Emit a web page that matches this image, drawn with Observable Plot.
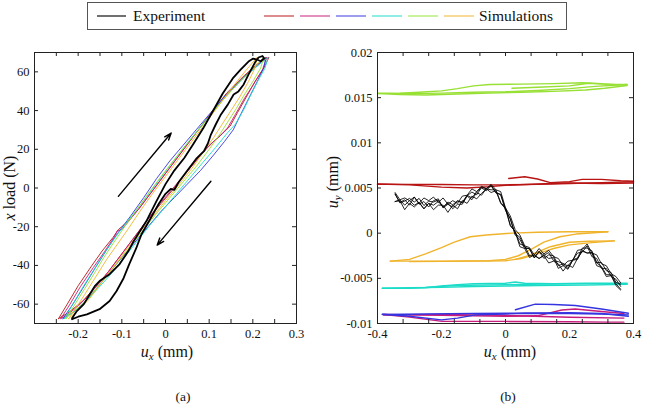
<!DOCTYPE html>
<html>
<head>
<meta charset="utf-8">
<script src="https://cdn.jsdelivr.net/npm/d3@7"></script>
<script src="https://cdn.jsdelivr.net/npm/@observablehq/plot@0.6"></script>
<style>
  body { margin: 0; background: #fff; }
  #fig { position: relative; width: 645px; height: 408px; font-family: "Liberation Serif", "DejaVu Serif", serif; color: #111; overflow: hidden; }
  .abs { position: absolute; white-space: nowrap; }
  .ctr { transform: translate(-50%, -50%); }
  .rot { transform: translate(-50%, -50%) rotate(-90deg); }
  .sub { font-size: 0.68em; position: relative; top: 0.3em; }
  .ttl { font-size: 16px; }
  .cap { font-size: 13.5px; }
</style>
</head>
<body>
<div id="fig"></div>
<script>
// ---------- series colours (legend order) ----------
const simColors = ["#b81414", "#c81c7c", "#3434e0", "#1cdcc8", "#98e034", "#f0b42c"];

// ---------- panel (a): x load (N) vs u_x (mm) ----------
const expLoopA = [
  [-0.214,-67.8],[-0.2,-66.5],[-0.18,-65.3],[-0.151,-62.6],[-0.128,-58.4],[-0.112,-53.2],[-0.096,-46.6],
  [-0.083,-39.3],[-0.067,-31.1],[-0.055,-23.9],[-0.035,-16],[-0.015,-8],[0.0,-3],[0.012,-0.5],[0.02,-1],
  [0.03,3],[0.05,9],[0.07,15],[0.088,19],[0.097,23],[0.104,27.6],[0.115,32.8],[0.127,38],[0.143,43.2],
  [0.156,48.3],[0.167,49.9],[0.179,53.5],[0.19,58.6],[0.206,65.3],[0.213,67.4],[0.222,68.2],[0.226,67],
  [0.218,65.5],[0.208,66.5],[0.2,66.8],[0.19,65.3],[0.172,61.2],[0.154,56.6],[0.131,48.8],[0.108,39.5],
  [0.086,30.7],[0.063,22.5],[0.043,15.5],[0.02,9],[0.0,2],[-0.021,-6.9],[-0.044,-17.2],[-0.073,-27.5],
  [-0.085,-32.6],[-0.105,-39.3],[-0.128,-44.5],[-0.151,-48.1],[-0.162,-50.7],[-0.173,-54.8],[-0.187,-60],
  [-0.203,-63.6],[-0.214,-67.3]
];
const simRedA = [
  [-0.245,-67.5],[-0.225,-60],[-0.2,-50.5],[-0.17,-40.5],[-0.145,-32.5],[-0.12,-25.5],[-0.108,-21.5],[-0.085,-17],
  [-0.06,-10.5],[-0.03,-1.5],[0,7.5],[0.03,16.5],[0.06,25.5],[0.1,37.5],[0.14,49],[0.18,58],[0.21,64],[0.237,67.5],
  [0.225,62],[0.205,55],[0.185,47],[0.165,39],[0.148,32],[0.13,28],[0.11,24],[0.08,17],[0.05,8.5],[0.02,0],
  [-0.01,-8],[-0.04,-16],[-0.07,-25],[-0.1,-34],[-0.13,-43],[-0.16,-51],[-0.19,-58.5],[-0.22,-64],[-0.245,-67.5]
];
const simMagentaA = [
  [-0.24,-67.5],[-0.22,-60.5],[-0.195,-51],[-0.165,-41],[-0.14,-33],[-0.118,-25.5],[-0.11,-22],[-0.1,-21.5],
  [-0.08,-16],[-0.055,-9],[-0.025,0],[0.005,9],[0.035,18],[0.065,27],[0.1,37],[0.14,48],[0.18,57.5],[0.21,63.5],
  [0.232,67.5],[0.222,61],[0.2,53],[0.18,46],[0.16,38],[0.142,31],[0.125,27],[0.1,22],[0.07,14],[0.04,6],
  [0.01,-2],[-0.02,-10],[-0.05,-19],[-0.08,-28],[-0.11,-37],[-0.14,-46],[-0.17,-54],[-0.2,-61],[-0.225,-65.5],[-0.24,-67.5]
];
const simBlueA = [
  [-0.235,-67.5],[-0.215,-61],[-0.19,-52],[-0.16,-41],[-0.135,-32],[-0.11,-23.5],[-0.08,-14.5],[-0.05,-5],
  [-0.02,5],[0.01,14],[0.04,22],[0.07,30],[0.1,38],[0.14,48.5],[0.18,57.5],[0.21,63],[0.23,67.5],
  [0.225,62],[0.21,55],[0.19,46],[0.17,37],[0.155,30],[0.135,24],[0.11,17],[0.08,9],[0.05,2],[0.02,-5],
  [-0.01,-12],[-0.04,-20],[-0.07,-28],[-0.1,-36],[-0.13,-44],[-0.16,-52.5],[-0.185,-59],[-0.21,-64],[-0.235,-67.5]
];
const simCyanA = [
  [-0.232,-67.5],[-0.212,-60],[-0.19,-51.5],[-0.162,-41.5],[-0.14,-33.5],[-0.115,-25.5],[-0.09,-18],[-0.06,-9.5],
  [-0.03,-0.5],[0,8.5],[0.03,17.5],[0.06,26],[0.1,37],[0.14,48],[0.18,57],[0.21,63],[0.235,67.5],
  [0.228,62],[0.212,55.5],[0.195,48],[0.178,40],[0.16,33],[0.14,28],[0.115,21],[0.085,13],[0.055,5],[0.025,-3],
  [-0.005,-11],[-0.035,-19],[-0.065,-27.5],[-0.095,-36],[-0.125,-44.5],[-0.155,-52],[-0.18,-58],[-0.205,-63],[-0.232,-67.5]
];
const simGreenA = [
  [-0.228,-67.5],[-0.21,-61],[-0.185,-52],[-0.16,-43],[-0.14,-35.5],[-0.118,-28],[-0.095,-20.5],[-0.065,-11],
  [-0.035,-1.5],[-0.005,7.5],[0.025,16],[0.055,24.5],[0.09,34],[0.13,45],[0.17,55],[0.2,61.5],[0.225,67.5],
  [0.218,62],[0.2,55],[0.18,48],[0.162,41],[0.145,35],[0.125,28],[0.1,20],[0.07,11],[0.04,3],[0.01,-5],
  [-0.02,-13],[-0.05,-21.5],[-0.08,-30],[-0.11,-38.5],[-0.14,-47],[-0.17,-55],[-0.195,-61],[-0.215,-64.5],[-0.228,-67.5]
];
const simOrangeA = [
  [-0.222,-67.5],[-0.205,-62],[-0.185,-55],[-0.16,-46],[-0.135,-37],[-0.11,-29],[-0.085,-21],[-0.06,-12.5],
  [-0.03,-3],[0,6],[0.03,15],[0.06,24],[0.095,34.5],[0.13,45],[0.16,54],[0.185,61],[0.21,67.5],
  [0.205,62],[0.19,55],[0.17,47],[0.15,40],[0.13,33],[0.11,26],[0.085,18],[0.06,10],[0.03,1.5],[0,-6.5],
  [-0.03,-15],[-0.06,-23],[-0.09,-32],[-0.12,-41],[-0.15,-50],[-0.175,-57.5],[-0.2,-63],[-0.222,-67.5]
];
const arrowStartA = [[-0.108,-4.3],[0.104,3.5]];
const arrowEndA = [[0.013,28.4],[-0.019,-29.5]];
const tickLabelsXA = [-0.2,-0.1,0,0.1,0.2,0.3];
const tickMarksXA = [-0.25,-0.2,-0.15,-0.1,-0.05,0,0.05,0.1,0.15,0.2,0.25];
const tickLabelsYA = [-60,-40,-20,0,20,40,60];

// ---------- panel (b): u_y vs u_x, both mm (u_y listed in µm) ----------
const expGridB = [-0.345,-0.33,-0.315,-0.3,-0.285,-0.27,-0.255,-0.24,-0.225,-0.21,-0.195,-0.18,-0.165,-0.15,
  -0.135,-0.12,-0.105,-0.09,-0.075,-0.06,-0.045,-0.03,-0.015,0,0.015,0.03,0.045,0.06,0.075,0.09,0.105,0.12,
  0.135,0.15,0.165,0.18,0.195,0.21,0.225,0.24,0.255,0.27,0.285,0.3,0.315,0.33,0.345,0.36];
const expCycle1B = [4.3,3.4,3.7,3.1,4.0,3.2,3.5,2.9,3.6,3.8,2.8,3.2,2.9,3.6,3.4,4.2,3.9,4.6,5.0,4.7,5.3,4.5,4.3,2.5,
  1.6,-0.2,-0.7,-1.7,-1.7,-2.7,-2.0,-2.8,-2.4,-2.5,-3.6,-3.4,-3.9,-3.0,-2.2,-2.1,-1.4,-2.6,-2.8,-3.9,-3.9,-4.8,-5.1,-5.9];
const expCycle2B = [3.5,3.6,2.6,3.3,2.9,3.4,2.7,3.3,2.6,3.1,3.1,2.3,3.1,2.7,3.6,3.3,4.1,3.8,4.4,4.9,4.5,4.7,3.3,2.7,
  0.8,0.2,-1.5,-1.7,-2.7,-2.4,-2.8,-2.5,-3.3,-3.1,-3.4,-4.2,-3.5,-3.8,-2.8,-2.0,-2.2,-2.2,-3.6,-3.8,-4.8,-4.7,-5.8,-6.3];
const expCycle3B = [4.5,3.7,3.9,3.6,4.0,3.3,3.9,3.6,4.0,3.4,3.9,3.2,3.6,3.3,4.1,4.2,4.9,4.6,5.2,4.9,5.4,4.8,4.6,2.8,
  1.9,0.4,-0.2,-1.4,-1.6,-2.4,-1.7,-2.3,-1.9,-2.6,-2.8,-3.6,-3.1,-3.0,-1.9,-1.8,-1.2,-2.2,-2.4,-3.4,-3.6,-4.5,-4.8,-5.5];
const expCycle4B = [3.5,3.7,3.1,3.6,3.1,3.4,2.7,3.3,3.1,3.5,2.9,3.3,2.7,3.2,3.2,4.1,3.7,4.5,4.2,4.9,4.8,4.8,3.4,2.8,
  0.9,0.2,-1.2,-1.4,-2.5,-2.5,-2.8,-2.4,-2.8,-2.7,-3.9,-3.6,-4.0,-3.0,-2.9,-1.9,-2.2,-2.1,-3.3,-3.7,-4.6,-4.6,-5.6,-6.2];
const expCycle5B = [4.35,3.35,3.55,3.85,3.45,3.85,3.05,3.55,3.45,3.65,2.85,3.45,3.15,3.55,3.35,4.15,4.55,4.25,5.05,4.95,
  5.25,4.45,4.25,2.65,1.55,-0.05,-0.45,-1.55,-1.75,-2.75,-2.05,-2.45,-2.15,-3.05,-3.15,-3.35,-3.65,-2.95,-2.75,-1.65,
  -1.65,-1.95,-3.25,-3.25,-4.15,-4.35,-5.45,-5.65];

const simRedB = [
  [[-0.4,5.42],[-0.3,5.4],[-0.2,5.38],[-0.1,5.35],[0,5.35],[0.1,5.4],[0.2,5.5],[0.3,5.6],[0.4,5.7]],
  [[-0.4,5.45],[-0.3,5.35],[-0.2,5.1],[-0.12,5.0],[-0.05,5.15],[0,5.3],[0.1,5.45],[0.2,5.55],[0.3,5.5],[0.4,5.55]],
  [[0.01,6.05],[0.06,6.25],[0.1,6.0],[0.14,5.6],[0.2,5.7],[0.24,5.95],[0.3,5.95],[0.36,5.8],[0.4,5.75]]
];
const simMagentaB = [
  [[-0.381,-9.0],[-0.3,-9.3],[-0.198,-9.77],[0,-9.77],[0.2,-9.8],[0.32,-9.85],[0.37,-9.85]],
  [[-0.381,-9.0],[-0.2,-9.1],[0,-9.2],[0.1,-9.15],[0.176,-8.5],[0.218,-8.4],[0.3,-8.67],[0.37,-8.9]],
  [[-0.381,-9.05],[-0.2,-9.0],[0,-9.1],[0.2,-9.3],[0.37,-9.4]]
];
const simBlueB = [
  [[-0.385,-8.97],[-0.3,-9.2],[-0.2,-9.6],[-0.15,-9.4],[-0.094,-9.04],[0,-8.95],[0.062,-8.86],[0.2,-8.9],[0.3,-8.95],[0.384,-9.04]],
  [[0.031,-8.48],[0.093,-7.86],[0.15,-7.9],[0.218,-8.0],[0.3,-8.4],[0.384,-8.86]],
  [[-0.385,-9.0],[-0.25,-8.95],[-0.1,-8.9],[0.05,-8.85],[0.2,-8.8],[0.3,-8.9],[0.384,-9.2]]
];
const simCyanB = [
  [[-0.385,-6.1],[-0.3,-6.1],[-0.25,-6.05],[-0.2,-5.85],[-0.15,-5.7],[-0.1,-5.6],[0,-5.55],[0.03,-5.4],[0.06,-5.55],[0.15,-5.6],[0.25,-5.55],[0.38,-5.55]],
  [[0.38,-5.65],[0.25,-5.75],[0.1,-5.8],[0,-5.85],[-0.1,-5.9],[-0.2,-6.0],[-0.3,-6.05],[-0.385,-6.1]],
  [[-0.25,-6.0],[-0.15,-5.8],[0,-5.7],[0.2,-5.6],[0.38,-5.6]]
];
const simGreenB = [
  [[-0.398,15.45],[-0.33,15.35],[-0.25,15.3],[-0.15,15.4],[-0.05,15.5],[0.05,15.6],[0.15,15.7],[0.25,15.85],[0.31,16.05],[0.38,16.35],
   [0.3,16.55],[0.24,16.65],[0.15,16.55],[0.05,16.5],[-0.05,16.45],[-0.1,16.3],[-0.15,16.0],[-0.2,15.75],[-0.27,15.6],[-0.33,15.5],[-0.398,15.45]],
  [[-0.398,15.5],[-0.3,15.45],[-0.2,15.5],[-0.1,15.6],[0,15.65],[0.1,15.8],[0.2,16.0],[0.28,16.25],[0.38,16.45]],
  [[0.02,16.05],[0.1,16.15],[0.2,16.3],[0.26,16.6],[0.3,16.5],[0.38,16.45]]
];
const simOrangeB = [
  [[-0.36,-3.1],[-0.2,-3.1],[-0.05,-3.05],[0,-2.9],[0.04,-2.5],[0.08,-1.8],[0.12,-1.0],[0.17,-0.4],[0.22,-0.1],[0.32,0.15]],
  [[0.32,0.15],[0.2,0.15],[0.1,0.1],[0.02,0.0],[-0.06,-0.2],[-0.11,-0.4],[-0.16,-1.0],[-0.2,-1.6],[-0.25,-2.3],[-0.3,-2.9],[-0.36,-3.1]],
  [[-0.3,-3.15],[-0.1,-3.1],[0,-3.05],[0.05,-2.8],[0.1,-2.3],[0.15,-1.7],[0.2,-1.3],[0.27,-1.05],[0.34,-0.85]],
  [[0.03,-2.9],[0.08,-2.4],[0.14,-1.5],[0.2,-1.0],[0.26,-0.9],[0.34,-0.85]]
];
const tickLabelsXB = [-0.4,-0.2,0,0.2,0.4];
const tickMarksXB = [-0.32,-0.24,-0.16,-0.08,0,0.08,0.16,0.24,0.32];
const tickLabelsYB = [-0.01,-0.005,0,0.005,0.01,0.015,0.02];
const tickMarksYB = [-0.005,0,0.005,0.01,0.015];

const legendLabels = ["Experiment", "Simulations"];

// ---------- drawing ----------
const fig = document.getElementById("fig");
const um = 1e-3;
const tickLen = 4;
const fmt = d => String(d);
const axisStyle = {fontFamily: "'Liberation Serif', serif", fontSize: "12.5px", color: "#111", background: "transparent", overflow: "visible"};

function place(node, left, top) {
  node.style.position = "absolute";
  node.style.left = left + "px";
  node.style.top = top + "px";
  fig.appendChild(node);
}

// frame ticks pointing inward on all four sides
function innerTicks(xs, ys, pw, ph) {
  return [
    Plot.tickX(xs, {x: d => d, insetTop: ph - tickLen, stroke: "#222"}),
    Plot.tickX(xs, {x: d => d, insetBottom: ph - tickLen, stroke: "#222"}),
    Plot.tickY(ys, {y: d => d, insetRight: pw - tickLen, stroke: "#222"}),
    Plot.tickY(ys, {y: d => d, insetLeft: pw - tickLen, stroke: "#222"})
  ];
}

// panel (a)
{
  const W = 320, H = 310, mL = 34, mR = 24, mT = 12, mB = 27;
  const sims = [simRedA, simMagentaA, simBlueA, simCyanA, simGreenA, simOrangeA];
  const arrows = arrowStartA.map((s, i) => ({x1: s[0], y1: s[1], x2: arrowEndA[i][0], y2: arrowEndA[i][1]}));
  const chart = Plot.plot({
    width: W, height: H, marginLeft: mL, marginRight: mR, marginTop: mT, marginBottom: mB,
    style: axisStyle,
    x: {domain: [-0.3, 0.3]},
    y: {domain: [-70, 70]},
    marks: [
      ...sims.map((loop, i) => Plot.line(loop, {stroke: simColors[i], strokeWidth: 0.9})),
      Plot.line(expLoopA, {stroke: "#000", strokeWidth: 1.8}),
      Plot.arrow(arrows, {x1: "x1", y1: "y1", x2: "x2", y2: "y2", stroke: "#000", strokeWidth: 1.4, headLength: 8, headAngle: 40}),
      ...innerTicks(tickMarksXA, tickLabelsYA, W - mL - mR, H - mT - mB),
      Plot.frame({stroke: "#222", strokeWidth: 1}),
      Plot.axisX(tickLabelsXA, {tickSize: 0, tickPadding: 6, tickFormat: fmt, label: null}),
      Plot.axisY(tickLabelsYA, {tickSize: 0, tickPadding: 5, tickFormat: fmt, label: null})
    ]
  });
  place(chart, 0, 40);
}

// panel (b)
{
  const W = 325, H = 310, mL = 57, mR = 12, mT = 12, mB = 27;
  const groups = [simRedB, simMagentaB, simBlueB, simCyanB, simGreenB, simOrangeB];
  const cycles = [expCycle1B, expCycle2B, expCycle3B, expCycle4B, expCycle5B];
  const chart = Plot.plot({
    width: W, height: H, marginLeft: mL, marginRight: mR, marginTop: mT, marginBottom: mB,
    style: axisStyle,
    x: {domain: [-0.4, 0.4]},
    y: {domain: [-0.01, 0.02]},
    marks: [
      ...groups.flatMap((g, i) => g.map(seg => Plot.line(seg, {x: d => d[0], y: d => d[1] * um, stroke: simColors[i], strokeWidth: 1.4}))),
      ...cycles.map(c => Plot.line(c, {x: (d, j) => expGridB[j], y: d => d * um, stroke: "#000", strokeWidth: 0.85})),
      ...innerTicks(tickMarksXB, tickMarksYB, W - mL - mR, H - mT - mB),
      Plot.frame({stroke: "#222", strokeWidth: 1}),
      Plot.axisX(tickLabelsXB, {tickSize: 0, tickPadding: 6, tickFormat: fmt, label: null}),
      Plot.axisY(tickLabelsYB, {tickSize: 0, tickPadding: 5, tickFormat: fmt, label: null})
    ]
  });
  place(chart, 320, 40);
}

// legend box
{
  const svg = d3.create("svg").attr("width", 645).attr("height", 36)
    .style("font-family", "'Liberation Serif', serif");
  svg.append("rect").attr("x", 87.5).attr("y", 2.5).attr("width", 479).attr("height", 27)
    .attr("fill", "#fff").attr("stroke", "#555").attr("stroke-width", 1);
  svg.append("line").attr("x1", 97).attr("x2", 126).attr("y1", 16).attr("y2", 16)
    .attr("stroke", "#222").attr("stroke-width", 1.3);
  svg.append("text").attr("x", 133).attr("y", 21).attr("font-size", 15.5).attr("fill", "#111").text(legendLabels[0]);
  simColors.forEach((c, i) => {
    svg.append("line").attr("x1", 264 + i * 36).attr("x2", 294 + i * 36).attr("y1", 16).attr("y2", 16)
      .attr("stroke", c).attr("stroke-width", 1.3).attr("opacity", 0.75);
  });
  svg.append("text").attr("x", 479).attr("y", 21).attr("font-size", 15.5).attr("fill", "#111").text(legendLabels[1]);
  place(svg.node(), 0, 0);
}

// axis titles and panel captions
function addText(html, x, y, cls) {
  const d = document.createElement("div");
  d.className = "abs " + cls;
  d.innerHTML = html;
  d.style.left = x + "px";
  d.style.top = y + "px";
  fig.appendChild(d);
}
addText('<i>u</i><span class="sub"><i>x</i></span> (mm)', 167, 352, "ctr ttl");
addText('<i>u</i><span class="sub"><i>x</i></span> (mm)', 510, 352, "ctr ttl");
addText('<i>x</i> load (N)', 10, 188, "rot ttl");
addText('<i>u</i><span class="sub"><i>y</i></span> (mm)', 333, 182, "rot ttl");
addText('(a)', 183, 397, "ctr cap");
addText('(b)', 508, 397, "ctr cap");
</script>
</body>
</html>
